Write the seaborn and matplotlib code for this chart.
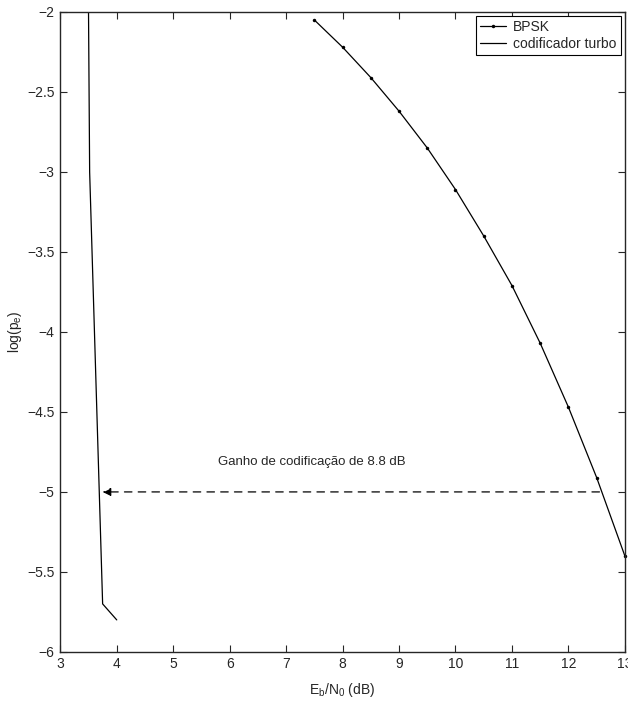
import matplotlib
matplotlib.use("Agg")
import matplotlib.pyplot as plt
import seaborn as sns
import pandas as pd

# BPSK curve
ebn0_bpsk = [7.5, 8.0, 8.5, 9.0, 9.5, 10.0, 10.5, 11.0, 11.5, 12.0, 12.5, 13.0]
logpe_bpsk = [-2.05, -2.22, -2.41, -2.62, -2.85, -3.11, -3.40, -3.71, -4.07, -4.47, -4.91, -5.40]

# turbo coder curve
ebn0_turbo = [3.5, 3.52, 3.75, 4.0]
logpe_turbo = [-2.0, -3.0, -5.7, -5.8]

gain_text = "Ganho de codificação de 8.8 dB"
arrow_start = (12.55, -5.0)
arrow_end = (3.75, -5.0)

sns.set_style("ticks")
plt.rcParams["font.family"] = ["Liberation Sans", "DejaVu Sans"]
plt.rcParams["mathtext.fontset"] = "custom"
plt.rcParams["mathtext.rm"] = "Liberation Sans"
plt.rcParams["mathtext.it"] = "Liberation Sans"

fig = plt.figure(figsize=(6.28, 7.04), dpi=100)
ax = fig.add_axes([0.096, 0.074, 0.899, 0.909])

bpsk = pd.DataFrame({"x": ebn0_bpsk, "y": logpe_bpsk})
turbo = pd.DataFrame({"x": ebn0_turbo, "y": logpe_turbo})

sns.lineplot(data=bpsk, x="x", y="y", ax=ax, color="black", lw=0.9,
             marker="o", markersize=2.5, markeredgewidth=0,
             label="BPSK", clip_on=False)
sns.lineplot(data=turbo, x="x", y="y", ax=ax, color="black", lw=0.9,
             label="codificador turbo", sort=False)

ax.annotate("", xy=arrow_end, xytext=arrow_start,
            arrowprops=dict(arrowstyle="-|>", linestyle=(0, (6, 5)),
                            color="black", lw=0.9, mutation_scale=12,
                            shrinkA=0, shrinkB=0))
ax.text(5.8, -4.83, gain_text, fontsize=9.5)

ax.set_xlim(3, 13)
ax.set_ylim(-6, -2)
ax.set_xticks(range(3, 14))
ax.set_yticks([-6, -5.5, -5, -4.5, -4, -3.5, -3, -2.5, -2])
ax.set_yticklabels(["\u22126", "\u22125.5", "\u22125", "\u22124.5", "\u22124",
                    "\u22123.5", "\u22123", "\u22122.5", "\u22122"])
ax.tick_params(direction="in", top=True, right=True, labelsize=10,
               length=5, width=0.8, pad=4)
for s in ax.spines.values():
    s.set_linewidth(1.0)

ax.set_xlabel(r"E$_b$/N$_0$ (dB)", fontsize=10)
ax.set_ylabel(r"log(p$_e$)", fontsize=10)
ax.xaxis.set_label_coords(0.5, -0.045)
ax.yaxis.set_label_coords(-0.064, 0.5)

leg = ax.legend(loc="upper right", fontsize=10, frameon=True, fancybox=False,
                edgecolor="black", framealpha=1, handlelength=1.9,
                borderpad=0.3, labelspacing=0.2, handletextpad=0.5,
                borderaxespad=0.3)
leg.get_frame().set_linewidth(0.8)

fig.savefig("out.png", dpi=100)
